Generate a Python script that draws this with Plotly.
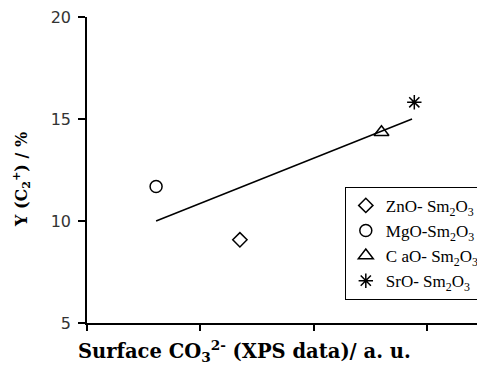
import plotly.graph_objects as go

# Data
names = ["ZnO- Sm<sub>2</sub>O<sub>3</sub>", "MgO-Sm<sub>2</sub>O<sub>3</sub>",
         "C aO- Sm<sub>2</sub>O<sub>3</sub>", "SrO- Sm<sub>2</sub>O<sub>3</sub>"]
x_vals = [1.35, 0.61, 2.60, 2.89]
y_vals = [9.08, 11.69, 14.35, 15.82]
symbols = ["diamond-open", "circle-open", "triangle-up-open", "asterisk-open"]
sizes = [11, 12, 13, 12]

trend_x = [0.61, 2.87]
trend_y = [10.0, 15.0]

y_ticks = [5, 10, 15, 20]
x_ticks = [0, 1, 2, 3]

fig = go.Figure()
fig.add_trace(go.Scatter(x=trend_x, y=trend_y, mode="lines",
                         line=dict(color="black", width=1.5), showlegend=False,
                         hoverinfo="skip"))
for n, xv, yv, s, sz in zip(names, x_vals, y_vals, symbols, sizes):
    fig.add_trace(go.Scatter(x=[xv], y=[yv], mode="markers", name=n,
                             marker=dict(symbol=s, size=sz, color="black",
                                         line=dict(color="black", width=1.5))))

fig.update_layout(
    width=477, height=359,
    margin=dict(l=79, r=0, t=9, b=44),
    paper_bgcolor="white", plot_bgcolor="white",
    font=dict(family="Liberation Serif", color="black"),
    legend=dict(x=0.656, y=0.445, xanchor="left", yanchor="top",
                bordercolor="black", borderwidth=1, bgcolor="white",
                font=dict(family="Liberation Serif", size=17, color="black"),
                itemwidth=30, tracegroupgap=0),
    xaxis=dict(range=[0, 3.47], tickvals=x_ticks, showticklabels=False,
               showline=True, linecolor="black", linewidth=1.5,
               ticks="outside", ticklen=6, tickcolor="black", tickwidth=1.5,
               showgrid=False, zeroline=False),
    yaxis=dict(range=[5, 20], tickvals=y_ticks, showline=True, linecolor="black",
               linewidth=1.5, ticks="outside", ticklen=7, tickcolor="black",
               tickwidth=1.5, showgrid=False, zeroline=False,
               ticklabeloverflow="allow", ticklabelstandoff=4,
               tickfont=dict(family="DejaVu Sans", size=16, color="#333333")),
    annotations=[
        dict(text="<b>Surface CO<sub>3</sub><sup>2-</sup> (XPS data)/ a. u.</b>",
             xref="paper", yref="paper", x=0.40, y=0, xanchor="center",
             yanchor="middle", yshift=-28, showarrow=False,
             font=dict(family="DejaVu Serif", size=19.5, color="black")),
        dict(text="<b>Y (C<sub>2</sub><sup>+</sup>) / %</b>",
             xref="paper", yref="paper", x=0, y=0.467, xanchor="center",
             yanchor="middle", xshift=-66, textangle=-90, showarrow=False,
             font=dict(family="DejaVu Serif", size=16, color="black")),
    ],
)

fig.write_html("out.html")
